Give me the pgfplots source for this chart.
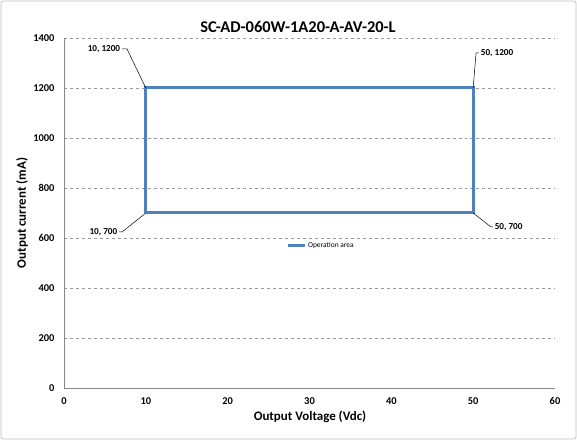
\documentclass[border=0pt]{standalone}
\usepackage{pgfplots}
\pgfplotsset{compat=1.18}
\usepackage{fontspec}
\setmainfont{Carlito}
\definecolor{excelblue}{RGB}{79,129,189}
\definecolor{framegray}{RGB}{190,190,190}
\definecolor{axisgray}{RGB}{134,134,134}
\begin{document}
\begin{tikzpicture}
\useasboundingbox (0bp,0bp) rectangle (577bp,440bp);
\draw[framegray, line width=0.8bp, rounded corners=2bp] (1bp,1bp) rectangle (576bp,439bp);
\begin{axis}[
  at={(64bp,52bp)}, anchor=south west,
  scale only axis, width=491bp, height=350bp,
  xmin=0, xmax=60, ymin=0, ymax=1400,
  xtick={0,10,...,60}, ytick={0,200,...,1400},
  axis lines*=left,
  axis line style={draw=axisgray, -, line width=0.8bp},
  ymajorgrids, grid style={dashed, draw=gray!80, line width=0.6bp},
  major tick length=0pt,
  /pgf/number format/assume math mode=true,
  /pgf/number format/1000 sep={},
  tick label style={font=\fontsize{10.5}{12}\selectfont\bfseries},
  xticklabel style={yshift=-6bp},
  yticklabel style={xshift=-6bp},
  clip=false,
  legend style={at={(0.452,0.406)}, anchor=west, draw=none, fill=none,
    font=\fontsize{7.5}{9}\selectfont, inner sep=0pt},
  legend image code/.code={\draw[#1] (0bp,0bp) -- (17bp,0bp);},
]
\addplot[excelblue, line width=3bp, line join=miter] coordinates {(10,700) (10,1200) (50,1200) (50,700) (10,700)};
\addlegendentry{Operation area}
\draw[black, line width=0.5bp] (axis cs:7.09,1356) -- (axis cs:7.7,1356) -- (axis cs:10,1200);
\node[anchor=east, inner sep=1bp, font=\fontsize{9.2}{11}\selectfont\bfseries] at (axis cs:7.0,1356) {10, 1200};
\draw[black, line width=0.5bp] (axis cs:50,1200) -- (axis cs:50.35,1340) -- (axis cs:50.7,1340);
\node[anchor=west, inner sep=1bp, font=\fontsize{9.2}{11}\selectfont\bfseries] at (axis cs:50.8,1340) {50, 1200};
\draw[black, line width=0.5bp] (axis cs:6.72,624) -- (axis cs:7.09,624) -- (axis cs:10,700);
\node[anchor=east, inner sep=1bp, font=\fontsize{9.2}{11}\selectfont\bfseries] at (axis cs:6.65,624) {10, 700};
\draw[black, line width=0.5bp] (axis cs:50,700) -- (axis cs:52.18,644) -- (axis cs:52.45,644);
\node[anchor=west, inner sep=1bp, font=\fontsize{9.2}{11}\selectfont\bfseries] at (axis cs:52.5,644) {50, 700};
\end{axis}
\node[font=\fontsize{16.5}{19}\selectfont\bfseries] at (298bp,413bp) {SC-AD-060W-1A20-A-AV-20-L};
\node[font=\fontsize{13}{15}\selectfont\bfseries] at (310bp,23bp) {Output Voltage (Vdc)};
\node[font=\fontsize{13}{15}\selectfont\bfseries, rotate=90] at (22bp,227bp) {Output current (mA)};
\end{tikzpicture}
\end{document}
